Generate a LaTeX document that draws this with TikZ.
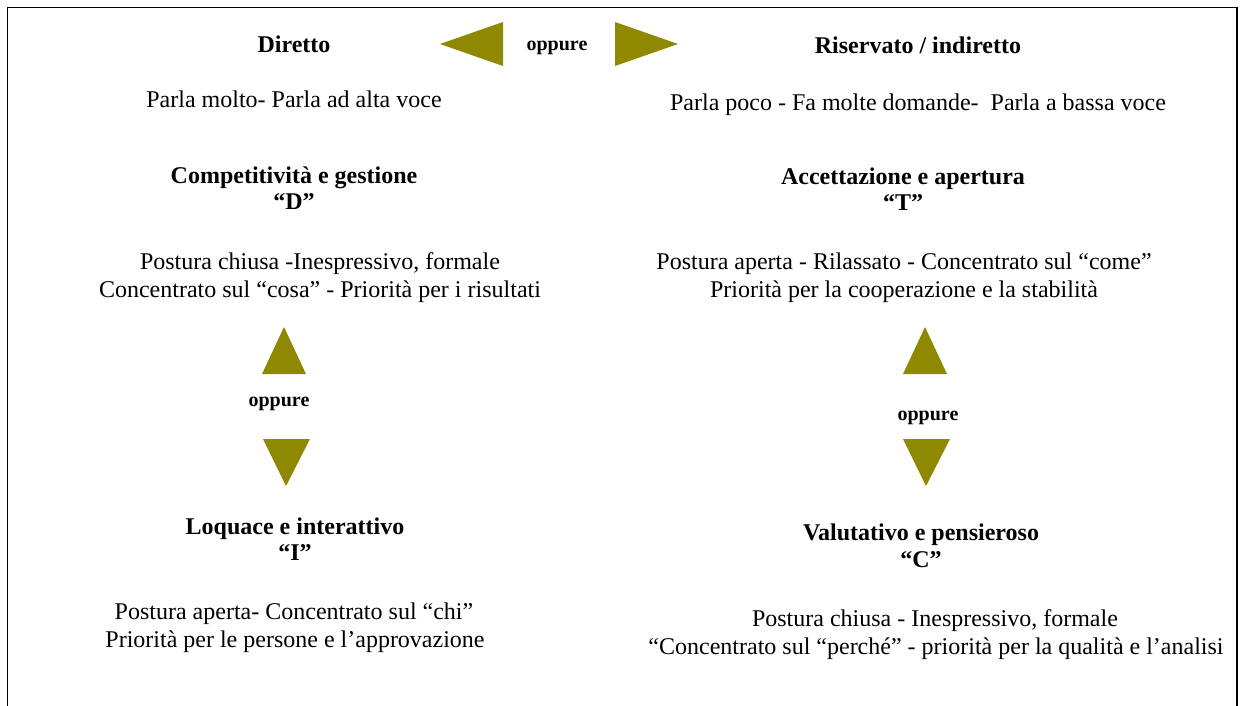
\documentclass[tikz,border=0pt]{standalone}
\usepackage{fontspec}
\setmainfont{Liberation Serif}
\usetikzlibrary{positioning}
\definecolor{olivefill}{RGB}{142,137,0}
\tikzset{
  headnode/.style={font=\fontsize{24}{26}\selectfont\bfseries, anchor=base, inner sep=0pt},
  bodynode/.style={font=\fontsize{24}{28}\selectfont, anchor=base, inner sep=0pt},
  orlabel/.style={font=\fontsize{20}{22}\selectfont\bfseries, anchor=base, inner sep=0pt},
  olivetri/.style={fill=olivefill},
  frameline/.style={line width=1.6pt, black},
}
\begin{document}
\begin{tikzpicture}[x=1pt, y=-1pt]

  \useasboundingbox (0,0) rectangle (1240,706);

  % ── Frame ──
  \draw[frameline] (7.5,706) -- (7.5,7.5) -- (1237,7.5) -- (1237,706);

  % ── Top row ──
  \node[headnode] (direct)   at (294,53) {Diretto};
  \node[headnode] (indirect) at (918,54) {Riservato / indiretto};
  \node[orlabel]  (orTop)    at (557,51) {oppure};
  \fill[olivetri] (440,44) -- (503,22) -- (503,66) -- cycle;
  \fill[olivetri] (678,44) -- (615,22) -- (615,66) -- cycle;

  \node[bodynode] (directDesc)   at (294,108) {Parla molto- Parla ad alta voce};
  \node[bodynode] (indirectDesc) at (918,111) {Parla poco - Fa molte domande-\ \ Parla a bassa voce};

  % ── D and T ──
  \node[headnode] (dTitle)  at (294,183) {Competitività e gestione};
  \node[headnode] (dLetter) at (294,209) {“D”};
  \node[bodynode] (dDescA)  at (320,269) {Postura chiusa -Inespressivo, formale};
  \node[bodynode] (dDescB)  at (320,297) {Concentrato sul “cosa” - Priorità per i risultati};

  \node[headnode] (tTitle)  at (903,184) {Accettazione e apertura};
  \node[headnode] (tLetter) at (903,210) {“T”};
  \node[bodynode] (tDescA)  at (904,269) {Postura aperta - Rilassato - Concentrato sul “come”};
  \node[bodynode] (tDescB)  at (904,297) {Priorità per la cooperazione e la stabilità};

  % ── Vertical "oppure" ──
  \node[orlabel] (orLeft) at (279,406) {oppure};
  \fill[olivetri] (284,327) -- (262,374) -- (306,374) -- cycle;
  \fill[olivetri] (263,439) -- (310,439) -- (286,486) -- cycle;

  \node[orlabel] (orRight) at (928,420) {oppure};
  \fill[olivetri] (925,327) -- (903,374) -- (947,374) -- cycle;
  \fill[olivetri] (903,439) -- (950,439) -- (926,486) -- cycle;

  % ── I and C ──
  \node[headnode] (iTitle)  at (295,534) {Loquace e interattivo};
  \node[headnode] (iLetter) at (295,560) {“I”};
  \node[bodynode] (iDescA)  at (294,619) {Postura aperta- Concentrato sul “chi”};
  \node[bodynode] (iDescB)  at (295,647) {Priorità per le persone e l’approvazione};

  \node[headnode] (cTitle)  at (921,540) {Valutativo e pensieroso};
  \node[headnode] (cLetter) at (921,567) {“C”};
  \node[bodynode] (cDescA)  at (935,626) {Postura chiusa - Inespressivo, formale};
  \node[bodynode] (cDescB)  at (936,654) {“Concentrato sul “perché” - priorità per la qualità e l’analisi};

\end{tikzpicture}
\end{document}
